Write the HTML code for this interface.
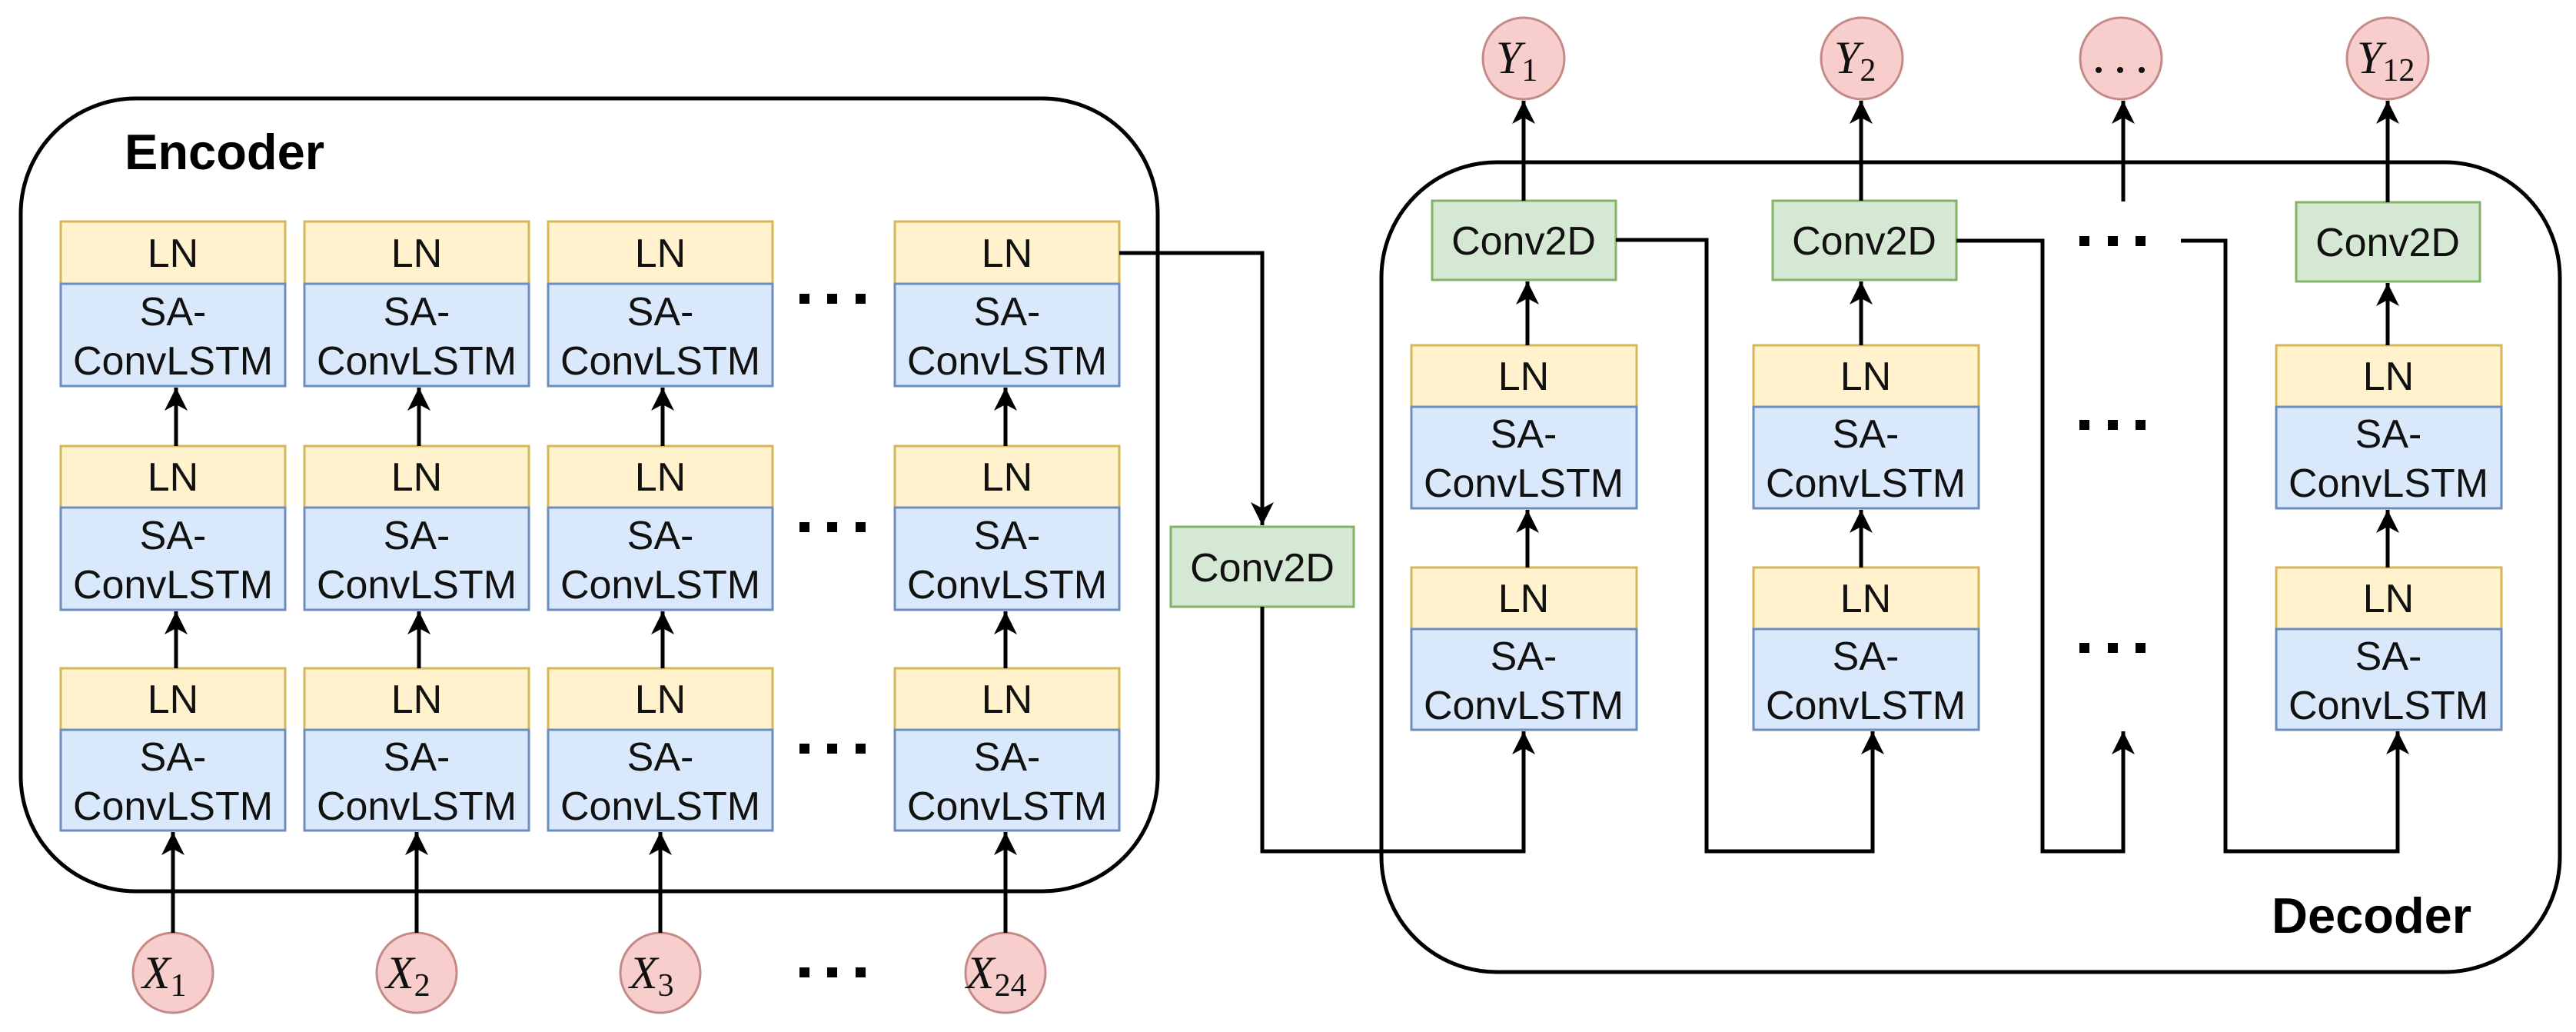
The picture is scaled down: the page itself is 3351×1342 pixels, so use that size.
<!DOCTYPE html>
<html><head><meta charset="utf-8"><style>
html,body{margin:0;padding:0;background:#fff;}
svg{display:block;}
text{font-family:"Liberation Sans",Arial,sans-serif;}
.t{font-size:52px;fill:#111;text-anchor:middle;}
text.m{font-family:"Liberation Serif","DejaVu Serif",serif;font-size:60px;fill:#111;}
</style></head><body>
<svg width="3351" height="1342" viewBox="0 0 3351 1342" xmlns="http://www.w3.org/2000/svg">
<defs>
<marker id="a" markerWidth="34" markerHeight="34" refX="30" refY="15" orient="auto" markerUnits="userSpaceOnUse">
<path d="M0,0 L30,15 L0,30 L8,15 Z" fill="#000"/>
</marker>
</defs>
<rect x="0" y="0" width="3351" height="1342" fill="#fff"/>

<rect x="27" y="128" width="1479" height="1031" rx="150" ry="150" fill="none" stroke="#000" stroke-width="5"/>
<rect x="1797" y="211" width="1533" height="1053" rx="150" ry="150" fill="none" stroke="#000" stroke-width="5"/>
<text x="162" y="220" style="font-size:65px;font-weight:bold;fill:#000">Encoder</text>
<text x="2955" y="1213" style="font-size:65px;font-weight:bold;fill:#000">Decoder</text>

<g stroke-width="3">
<rect x="79" y="288" width="292" height="81" fill="#fff2cc" stroke="#d6b656"/><rect x="79" y="369" width="292" height="133" fill="#dae8fc" stroke="#6c8ebf"/>
<rect x="396" y="288" width="292" height="81" fill="#fff2cc" stroke="#d6b656"/><rect x="396" y="369" width="292" height="133" fill="#dae8fc" stroke="#6c8ebf"/>
<rect x="713" y="288" width="292" height="81" fill="#fff2cc" stroke="#d6b656"/><rect x="713" y="369" width="292" height="133" fill="#dae8fc" stroke="#6c8ebf"/>
<rect x="1164" y="288" width="292" height="81" fill="#fff2cc" stroke="#d6b656"/><rect x="1164" y="369" width="292" height="133" fill="#dae8fc" stroke="#6c8ebf"/>
<rect x="79" y="580" width="292" height="80" fill="#fff2cc" stroke="#d6b656"/><rect x="79" y="660" width="292" height="133" fill="#dae8fc" stroke="#6c8ebf"/>
<rect x="396" y="580" width="292" height="80" fill="#fff2cc" stroke="#d6b656"/><rect x="396" y="660" width="292" height="133" fill="#dae8fc" stroke="#6c8ebf"/>
<rect x="713" y="580" width="292" height="80" fill="#fff2cc" stroke="#d6b656"/><rect x="713" y="660" width="292" height="133" fill="#dae8fc" stroke="#6c8ebf"/>
<rect x="1164" y="580" width="292" height="80" fill="#fff2cc" stroke="#d6b656"/><rect x="1164" y="660" width="292" height="133" fill="#dae8fc" stroke="#6c8ebf"/>
<rect x="79" y="869" width="292" height="80" fill="#fff2cc" stroke="#d6b656"/><rect x="79" y="949" width="292" height="131" fill="#dae8fc" stroke="#6c8ebf"/>
<rect x="396" y="869" width="292" height="80" fill="#fff2cc" stroke="#d6b656"/><rect x="396" y="949" width="292" height="131" fill="#dae8fc" stroke="#6c8ebf"/>
<rect x="713" y="869" width="292" height="80" fill="#fff2cc" stroke="#d6b656"/><rect x="713" y="949" width="292" height="131" fill="#dae8fc" stroke="#6c8ebf"/>
<rect x="1164" y="869" width="292" height="80" fill="#fff2cc" stroke="#d6b656"/><rect x="1164" y="949" width="292" height="131" fill="#dae8fc" stroke="#6c8ebf"/>

<rect x="1836" y="449" width="293" height="80" fill="#fff2cc" stroke="#d6b656"/><rect x="1836" y="529" width="293" height="132" fill="#dae8fc" stroke="#6c8ebf"/>
<rect x="2281" y="449" width="293" height="80" fill="#fff2cc" stroke="#d6b656"/><rect x="2281" y="529" width="293" height="132" fill="#dae8fc" stroke="#6c8ebf"/>
<rect x="2961" y="449" width="293" height="80" fill="#fff2cc" stroke="#d6b656"/><rect x="2961" y="529" width="293" height="132" fill="#dae8fc" stroke="#6c8ebf"/>
<rect x="1836" y="738" width="293" height="80" fill="#fff2cc" stroke="#d6b656"/><rect x="1836" y="818" width="293" height="131" fill="#dae8fc" stroke="#6c8ebf"/>
<rect x="2281" y="738" width="293" height="80" fill="#fff2cc" stroke="#d6b656"/><rect x="2281" y="818" width="293" height="131" fill="#dae8fc" stroke="#6c8ebf"/>
<rect x="2961" y="738" width="293" height="80" fill="#fff2cc" stroke="#d6b656"/><rect x="2961" y="818" width="293" height="131" fill="#dae8fc" stroke="#6c8ebf"/>

<rect x="1523" y="685" width="238" height="104" fill="#d5e8d4" stroke="#82b366"/>
<rect x="1863" y="261" width="239" height="103" fill="#d5e8d4" stroke="#82b366"/>
<rect x="2306" y="261" width="239" height="103" fill="#d5e8d4" stroke="#82b366"/>
<rect x="2987" y="263" width="239" height="103" fill="#d5e8d4" stroke="#82b366"/>

<g fill="#f8cecc" stroke="#c48a88">
<circle cx="225" cy="1265" r="52"/><circle cx="542" cy="1265" r="52"/><circle cx="859" cy="1265" r="52"/><circle cx="1308" cy="1265" r="52"/>
<circle cx="1982" cy="76" r="53"/><circle cx="2422" cy="76" r="53"/><circle cx="2759" cy="76" r="53"/><circle cx="3106" cy="76" r="53"/>
</g>
</g>

<g>
<text class="t" x="225" y="347">LN</text><text class="t" x="225" y="423">SA-</text><text class="t" x="225" y="487">ConvLSTM</text>
<text class="t" x="542" y="347">LN</text><text class="t" x="542" y="423">SA-</text><text class="t" x="542" y="487">ConvLSTM</text>
<text class="t" x="859" y="347">LN</text><text class="t" x="859" y="423">SA-</text><text class="t" x="859" y="487">ConvLSTM</text>
<text class="t" x="1310" y="347">LN</text><text class="t" x="1310" y="423">SA-</text><text class="t" x="1310" y="487">ConvLSTM</text>
<text class="t" x="225" y="638">LN</text><text class="t" x="225" y="714">SA-</text><text class="t" x="225" y="778">ConvLSTM</text>
<text class="t" x="542" y="638">LN</text><text class="t" x="542" y="714">SA-</text><text class="t" x="542" y="778">ConvLSTM</text>
<text class="t" x="859" y="638">LN</text><text class="t" x="859" y="714">SA-</text><text class="t" x="859" y="778">ConvLSTM</text>
<text class="t" x="1310" y="638">LN</text><text class="t" x="1310" y="714">SA-</text><text class="t" x="1310" y="778">ConvLSTM</text>
<text class="t" x="225" y="927">LN</text><text class="t" x="225" y="1002">SA-</text><text class="t" x="225" y="1066">ConvLSTM</text>
<text class="t" x="542" y="927">LN</text><text class="t" x="542" y="1002">SA-</text><text class="t" x="542" y="1066">ConvLSTM</text>
<text class="t" x="859" y="927">LN</text><text class="t" x="859" y="1002">SA-</text><text class="t" x="859" y="1066">ConvLSTM</text>
<text class="t" x="1310" y="927">LN</text><text class="t" x="1310" y="1002">SA-</text><text class="t" x="1310" y="1066">ConvLSTM</text>
<text class="t" x="1982" y="507">LN</text><text class="t" x="1982" y="582">SA-</text><text class="t" x="1982" y="646">ConvLSTM</text>
<text class="t" x="2427" y="507">LN</text><text class="t" x="2427" y="582">SA-</text><text class="t" x="2427" y="646">ConvLSTM</text>
<text class="t" x="3107" y="507">LN</text><text class="t" x="3107" y="582">SA-</text><text class="t" x="3107" y="646">ConvLSTM</text>
<text class="t" x="1982" y="796">LN</text><text class="t" x="1982" y="871">SA-</text><text class="t" x="1982" y="935">ConvLSTM</text>
<text class="t" x="2427" y="796">LN</text><text class="t" x="2427" y="871">SA-</text><text class="t" x="2427" y="935">ConvLSTM</text>
<text class="t" x="3107" y="796">LN</text><text class="t" x="3107" y="871">SA-</text><text class="t" x="3107" y="935">ConvLSTM</text>
<text class="t" x="1642" y="756">Conv2D</text>
<text class="t" x="1982" y="331">Conv2D</text>
<text class="t" x="2425" y="331">Conv2D</text>
<text class="t" x="3106" y="333">Conv2D</text>
</g>

<text class="m" x="185" y="1285"><tspan font-style="italic">X</tspan><tspan font-size="42" dy="10">1</tspan></text>
<text class="m" x="502" y="1285"><tspan font-style="italic">X</tspan><tspan font-size="42" dy="10">2</tspan></text>
<text class="m" x="819" y="1285"><tspan font-style="italic">X</tspan><tspan font-size="42" dy="10">3</tspan></text>
<text class="m" x="1257" y="1285"><tspan font-style="italic">X</tspan><tspan font-size="42" dy="10">24</tspan></text>
<text class="m" x="1946" y="95"><tspan font-style="italic">Y</tspan><tspan font-size="42" dy="10">1</tspan></text>
<text class="m" x="2386" y="95"><tspan font-style="italic">Y</tspan><tspan font-size="42" dy="10">2</tspan></text>
<text class="m" x="3066" y="95"><tspan font-style="italic">Y</tspan><tspan font-size="42" dy="10">12</tspan></text>
<g fill="#111"><circle cx="2730" cy="91" r="4"/><circle cx="2758" cy="91" r="4"/><circle cx="2786" cy="91" r="4"/></g>

<g fill="#000">
<rect x="1040" y="382" width="13" height="13"/><rect x="1076" y="382" width="13" height="13"/><rect x="1113" y="382" width="13" height="13"/>
<rect x="1040" y="679" width="13" height="13"/><rect x="1076" y="679" width="13" height="13"/><rect x="1113" y="679" width="13" height="13"/>
<rect x="1040" y="967" width="13" height="13"/><rect x="1076" y="967" width="13" height="13"/><rect x="1113" y="967" width="13" height="13"/>
<rect x="1040" y="1258" width="13" height="13"/><rect x="1076" y="1258" width="13" height="13"/><rect x="1113" y="1258" width="13" height="13"/>
<rect x="2705" y="307" width="13" height="13"/><rect x="2742" y="307" width="13" height="13"/><rect x="2778" y="307" width="13" height="13"/>
<rect x="2705" y="546" width="13" height="13"/><rect x="2742" y="546" width="13" height="13"/><rect x="2778" y="546" width="13" height="13"/>
<rect x="2705" y="836" width="13" height="13"/><rect x="2742" y="836" width="13" height="13"/><rect x="2778" y="836" width="13" height="13"/>
</g>

<g stroke="#000" stroke-width="5" fill="none">
<line x1="229" y1="580" x2="229" y2="504" marker-end="url(#a)"/>
<line x1="545" y1="580" x2="545" y2="504" marker-end="url(#a)"/>
<line x1="862" y1="580" x2="862" y2="504" marker-end="url(#a)"/>
<line x1="1308" y1="580" x2="1308" y2="504" marker-end="url(#a)"/>
<line x1="229" y1="869" x2="229" y2="795" marker-end="url(#a)"/>
<line x1="545" y1="869" x2="545" y2="795" marker-end="url(#a)"/>
<line x1="862" y1="869" x2="862" y2="795" marker-end="url(#a)"/>
<line x1="1308" y1="869" x2="1308" y2="795" marker-end="url(#a)"/>
<line x1="225" y1="1213" x2="225" y2="1082" marker-end="url(#a)"/>
<line x1="542" y1="1213" x2="542" y2="1082" marker-end="url(#a)"/>
<line x1="859" y1="1213" x2="859" y2="1082" marker-end="url(#a)"/>
<line x1="1308" y1="1213" x2="1308" y2="1082" marker-end="url(#a)"/>
<polyline points="1456,329 1642,329 1642,683" marker-end="url(#a)"/>
<polyline points="1642,789 1642,1107 1982,1107 1982,951" marker-end="url(#a)"/>
<line x1="1987" y1="738" x2="1987" y2="663" marker-end="url(#a)"/>
<line x1="2421" y1="738" x2="2421" y2="663" marker-end="url(#a)"/>
<line x1="3106" y1="738" x2="3106" y2="663" marker-end="url(#a)"/>
<line x1="1987" y1="449" x2="1987" y2="366" marker-end="url(#a)"/>
<line x1="2421" y1="449" x2="2421" y2="366" marker-end="url(#a)"/>
<line x1="3106" y1="449" x2="3106" y2="368" marker-end="url(#a)"/>
<line x1="1982" y1="261" x2="1982" y2="131" marker-end="url(#a)"/>
<line x1="2421" y1="261" x2="2421" y2="131" marker-end="url(#a)"/>
<line x1="2762" y1="262" x2="2762" y2="131" marker-end="url(#a)"/>
<line x1="3106" y1="263" x2="3106" y2="131" marker-end="url(#a)"/>
<polyline points="2102,312 2220,312 2220,1107 2436,1107 2436,951" marker-end="url(#a)"/>
<polyline points="2545,313 2657,313 2657,1107 2762,1107 2762,951" marker-end="url(#a)"/>
<polyline points="2837,313 2895,313 2895,1107 3119,1107 3119,951" marker-end="url(#a)"/>
</g>
</svg>
</body></html>
